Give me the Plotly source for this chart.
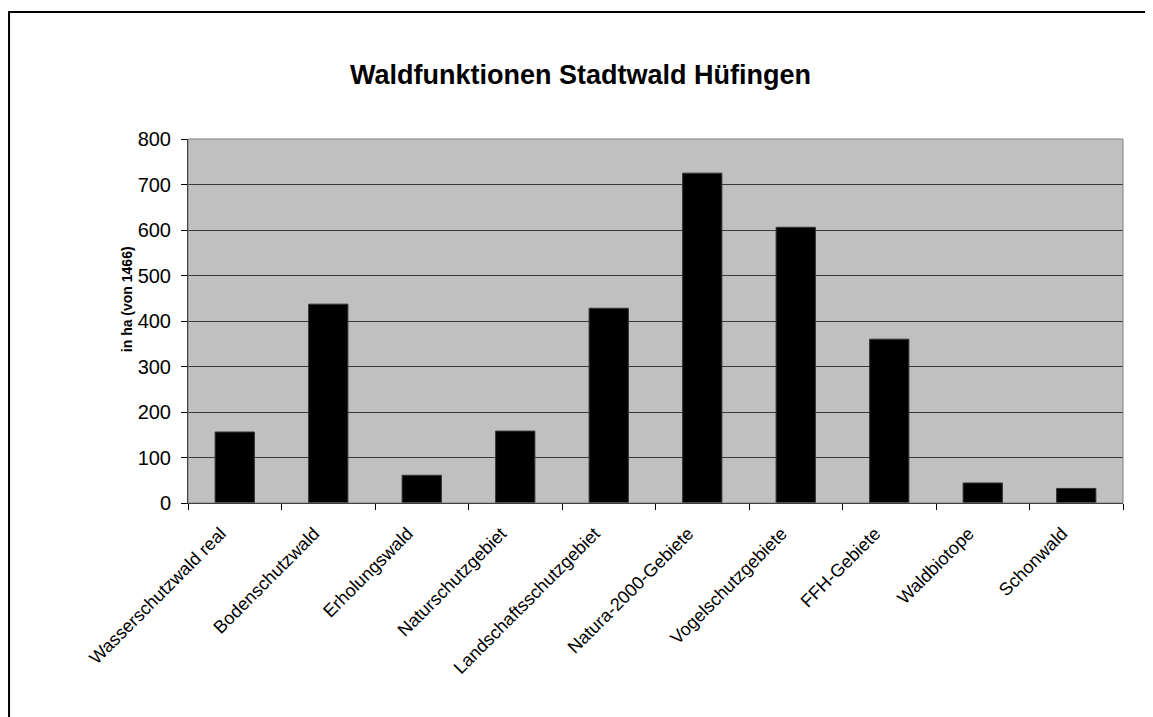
import plotly.graph_objects as go

categories = [
    "Wasserschutzwald real", "Bodenschutzwald", "Erholungswald",
    "Naturschutzgebiet", "Landschaftsschutzgebiet", "Natura-2000-Gebiete",
    "Vogelschutzgebiete", "FFH-Gebiete", "Waldbiotope", "Schonwald",
]
values_ha = [156, 437, 61, 158, 428, 725, 606, 360, 44, 32]
y_ticks = [0, 100, 200, 300, 400, 500, 600, 700, 800]

FONT = "Liberation Sans, Arial, sans-serif"

fig = go.Figure(go.Bar(
    x=categories,
    y=values_ha,
    marker=dict(color="#000000", line=dict(color="#333333", width=1)),
    hovertemplate="<b>%{x}</b><br>%{y} ha<extra></extra>",
))

# page body adds 8px, so the figure is a bit smaller than the window
fig.update_layout(
    width=1145, height=709,
    paper_bgcolor="#FFFFFF",
    plot_bgcolor="#C0C0C0",
    margin=dict(l=180, r=30, t=131, b=214),
    bargap=0.58,
    showlegend=False,
    font=dict(family=FONT, color="#000000"),
    title=dict(
        text="<b>Waldfunktionen Stadtwald Hüfingen</b>",
        font=dict(size=27, family=FONT, color="#000000"),
        x=0.5, xanchor="center", y=0.906, yanchor="middle",
    ),
    xaxis=dict(
        tickangle=-45,
        tickfont=dict(size=18, family=FONT, color="#000000"),
        ticks="outside", ticklen=6, tickcolor="#000000",
        tickson="boundaries",
        ticklabelstandoff=12, ticklabelshift=-14,
        showline=True, linecolor="#000000", linewidth=1,
        showgrid=False,
    ),
    yaxis=dict(
        range=[0, 800],
        tickvals=y_ticks,
        tickfont=dict(size=20, family=FONT, color="#000000"),
        ticks="outside", ticklen=6, tickcolor="#000000",
        ticklabelstandoff=6,
        showline=True, linecolor="#000000", linewidth=1,
        showgrid=True, gridcolor="#3A3A3A", gridwidth=1,
        zeroline=False,
    ),
    # y title sits a little above the middle in the original, so an annotation
    annotations=[dict(
        text="<b>in ha (von 1466)</b>",
        xref="paper", yref="paper", x=-0.0652, y=0.56,
        xanchor="center", yanchor="middle",
        textangle=-90, showarrow=False,
        font=dict(size=14, family=FONT, color="#000000"),
    )],
    shapes=[
        # grey border round the plot area (top and right)
        dict(type="rect", xref="paper", yref="paper",
             x0=0, x1=1, y0=0, y1=1,
             line=dict(color="#808080", width=1), layer="above"),
        # outer chart frame, cut off at the right and bottom
        dict(type="rect", xref="paper", yref="paper",
             x0=-0.1914, x1=1.2, y0=-0.7, y1=1.349,
             line=dict(color="#000000", width=2), layer="above"),
    ],
)

fig.write_html("out.html")
